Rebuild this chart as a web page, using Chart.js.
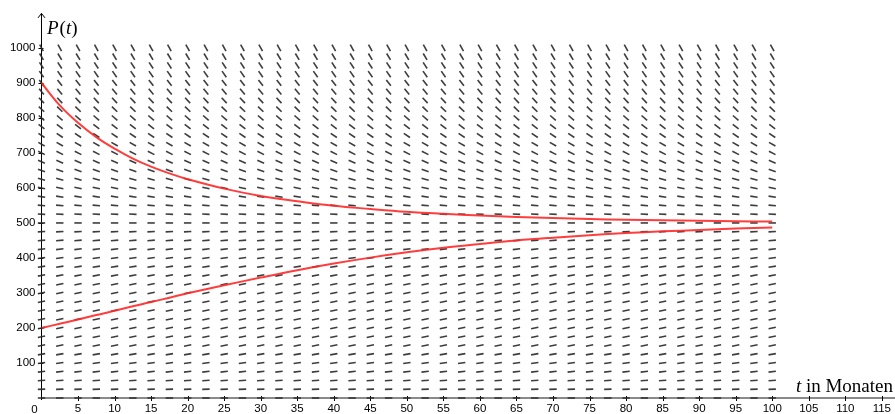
<!DOCTYPE html>
<html>
<head>
<meta charset="utf-8">
<script src="https://cdn.jsdelivr.net/npm/chart.js@4.4.1/dist/chart.umd.min.js"></script>
<style>
html,body{margin:0;padding:0;background:#fff;}
canvas{display:block;}
</style>
</head>
<body>
<canvas id="c" width="895" height="414"></canvas>
<script>
// ---- data ----
const curveT = [0,2.5,5,7.5,10,12.5,15,17.5,20,25,30,35,40,45,50,55,60,65,70,75,80,85,90,95,100];
const upperP = [900,836,786,745,712,684,661,641.5,625,598,577,562,549,540,532,526,521,517,514,511,509,507.5,506,505,504];
const lowerP = [200,212,224,237,249,262,274,286.5,299,322,344,365,384,401,416,429,440,450,458,465,471,476,480,484,487];

// slope field: grid columns (t) and rows (P), slope dP/dt per row
const fieldT = [0,2.5,5,7.5,10,12.5,15,17.5,20,22.5,25,27.5,30,32.5,35,37.5,40,42.5,45,47.5,50,52.5,55,57.5,60,62.5,65,67.5,70,72.5,75,77.5,80,82.5,85,87.5,90,92.5,95,97.5,100];
const fieldP = [0,25,50,75,100,125,150,175,200,225,250,275,300,325,350,375,400,425,450,475,500,525,550,575,600,625,650,675,700,725,750,775,800,825,850,875,900,925,950,975,1000];
const fieldSlope = [0,0.9,1.7,2.4,3.0,3.5,3.9,4.3,4.5,4.6,4.7,4.6,4.5,4.3,3.9,3.5,3.0,2.4,1.7,0.9,0,-1.0,-2.1,-3.2,-4.5,-5.9,-7.3,-8.9,-10.5,-12.2,-14.1,-16.0,-18.0,-20.1,-22.3,-24.6,-27.0,-29.5,-32.1,-34.7,-37.5];

const xTickLabels = [5,10,15,20,25,30,35,40,45,50,55,60,65,70,75,80,85,90,95,100,105,110,115];
const yTickLabels = [100,200,300,400,500,600,700,800,900,1000];

const toPts = (ts, ps) => ts.map((t, i) => ({x: t, y: ps[i]}));

const fieldPlugin = {
  id: 'field',
  beforeDatasetsDraw(chart) {
    const ctx = chart.ctx;
    const xs = chart.scales.x, ys = chart.scales.y;
    const x0 = xs.getPixelForValue(0), y0 = ys.getPixelForValue(0);
    ctx.save();
    // x axis
    ctx.strokeStyle = '#8a8a8a';
    ctx.lineWidth = 2;
    ctx.beginPath();
    ctx.moveTo(x0, Math.round(y0));
    ctx.lineTo(chart.width, Math.round(y0));
    ctx.stroke();
    ctx.strokeStyle = '#000';
    ctx.lineWidth = 1;
    // x ticks
    xTickLabels.forEach(v => {
      const px = Math.round(xs.getPixelForValue(v)) + 0.5;
      ctx.beginPath();
      ctx.moveTo(px, Math.round(y0) - 2);
      ctx.lineTo(px, Math.round(y0) + 3);
      ctx.stroke();
    });
    // y axis
    const ax = Math.floor(x0) + 0.5;
    ctx.beginPath();
    ctx.moveTo(ax, Math.round(y0) + 2);
    ctx.lineTo(ax, chart.chartArea.top + 0.5);
    ctx.stroke();
    ctx.beginPath();
    ctx.moveTo(ax - 3.5, chart.chartArea.top + 5);
    ctx.lineTo(ax, chart.chartArea.top + 0.5);
    ctx.lineTo(ax + 3.5, chart.chartArea.top + 5);
    ctx.stroke();
    yTickLabels.forEach(v => {
      const py = Math.round(ys.getPixelForValue(v)) + 0.5;
      ctx.beginPath();
      ctx.moveTo(ax - 3, py);
      ctx.lineTo(ax + 2, py);
      ctx.stroke();
    });
    // slope field
    ctx.strokeStyle = 'rgba(45,45,45,0.92)';
    ctx.lineWidth = 1.6;
    ctx.lineCap = 'butt';
    const half = 3.7;
    fieldP.forEach((p, r) => {
      const m = fieldSlope[r];
      fieldT.forEach(t => {
        const cx = xs.getPixelForValue(t), cy = ys.getPixelForValue(p);
        const dx = xs.getPixelForValue(t + 1) - cx;
        const dy = ys.getPixelForValue(p + m) - cy;
        const len = Math.hypot(dx, dy);
        const ux = dx / len * half, uy = dy / len * half;
        ctx.beginPath();
        ctx.moveTo(cx - ux, cy - uy);
        ctx.lineTo(cx + ux, cy + uy);
        ctx.stroke();
      });
    });
    ctx.restore();
  },
  afterDraw(chart) {
    const ctx = chart.ctx;
    const xs = chart.scales.x;
    ctx.save();
    ctx.fillStyle = '#000';
    ctx.textBaseline = 'alphabetic';
    // origin label
    ctx.font = '11.5px "Liberation Sans", Arial, sans-serif';
    ctx.textAlign = 'center';
    ctx.fillText('0', xs.getPixelForValue(0) - 7, 413);
    ctx.textAlign = 'left';
    // P(t)
    const serif = '"Liberation Serif", "Times New Roman", serif';
    const parts1 = [['P', 'italic'], ['(', 'normal'], ['t', 'italic'], [')', 'normal']];
    let x = 47;
    parts1.forEach(([s, st]) => {
      ctx.font = st + ' 19px ' + serif;
      ctx.fillText(s, x, 34);
      x += ctx.measureText(s).width + (s === 'P' ? 1 : 0);
    });
    // t in Monaten
    const parts2 = [['t', 'italic'], [' in Monaten', 'normal']];
    let total = 0;
    parts2.forEach(([s, st]) => { ctx.font = st + ' 19px ' + serif; total += ctx.measureText(s).width; });
    x = 893 - total;
    parts2.forEach(([s, st]) => {
      ctx.font = st + ' 19px ' + serif;
      ctx.fillText(s, x, 392);
      x += ctx.measureText(s).width;
    });
    ctx.restore();
  }
};

new Chart(document.getElementById('c'), {
  type: 'scatter',
  data: {
    datasets: [
      {data: toPts(curveT, upperP), showLine: true, borderColor: 'rgba(255,40,40,0.9)', borderWidth: 2, pointRadius: 0, tension: 0.4},
      {data: toPts(curveT, lowerP), showLine: true, borderColor: 'rgba(255,40,40,0.9)', borderWidth: 2, pointRadius: 0, tension: 0.4}
    ]
  },
  options: {
    responsive: false,
    animation: false,
    devicePixelRatio: 1,
    layout: {padding: {top: 12, right: 0, left: 0, bottom: 0}},
    plugins: {legend: {display: false}, tooltip: {enabled: false}},
    scales: {
      x: {
        type: 'linear', min: 0, max: 116.4,
        grid: {display: false, drawTicks: false},
        border: {display: false},
        afterFit: s => { s.height = 16; },
        afterBuildTicks: s => { s.ticks = xTickLabels.map(v => ({value: v})); },
        ticks: {autoSkip: false, maxRotation: 0, padding: 4, color: '#000',
                callback: v => String(v),
                font: {size: 11.5, family: '"Liberation Sans", Arial, sans-serif'}}
      },
      y: {
        type: 'linear', min: 0, max: 1100,
        grid: {display: false, drawTicks: false},
        border: {display: false},
        afterFit: s => { s.width = 41.5; },
        afterBuildTicks: s => { s.ticks = yTickLabels.map(v => ({value: v})); },
        ticks: {autoSkip: false, padding: 6, color: '#000',
                callback: v => String(v),
                font: {size: 11.5, family: '"Liberation Sans", Arial, sans-serif'}}
      }
    }
  },
  plugins: [fieldPlugin]
});
</script>
</body>
</html>
